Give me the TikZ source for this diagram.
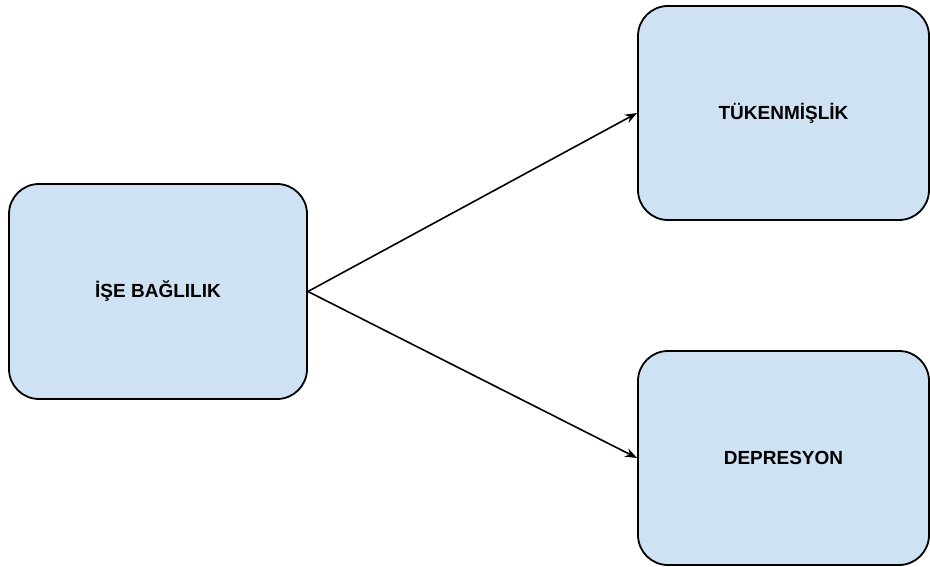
\documentclass[tikz,border=0pt]{standalone}
\usepackage{fontspec}
\setmainfont{Liberation Sans}
\usetikzlibrary{arrows.meta}
\definecolor{boxfill}{HTML}{CFE2F3}
\begin{document}
\begin{tikzpicture}[x=1pt,y=1pt,
  box/.style={draw=black, line width=1.8pt, fill=boxfill, rounded corners=30pt,
    font=\fontsize{19}{21}\selectfont\bfseries, inner sep=0pt},
  conn/.style={line width=1.6pt, -{Stealth[length=12pt,width=9pt]}}]
\useasboundingbox (0,0) rectangle (930,566);
\node[box, minimum width=298pt, minimum height=215pt] (a) at (158,274.5) {İŞE BAĞLILIK};
\node[box, minimum width=291pt, minimum height=214pt] (t) at (783.5,453) {TÜKENMİŞLİK};
\node[box, minimum width=291pt, minimum height=214pt] (d) at (783.5,108) {DEPRESYON};
\draw[conn] (a.east) -- (t.west);
\draw[conn] (a.east) -- (d.west);
\end{tikzpicture}
\end{document}
